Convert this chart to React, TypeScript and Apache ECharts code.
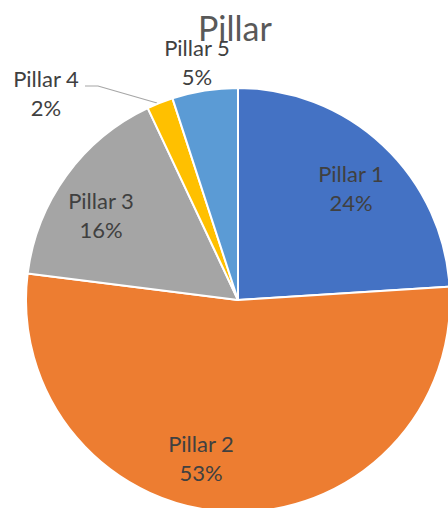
import React, { useEffect, useRef } from "react";
import * as echarts from "echarts";

const TITLE = "Pillar";
const categories = ["Pillar 1", "Pillar 2", "Pillar 3", "Pillar 4", "Pillar 5"];
const values = [24, 53, 16, 2, 5];
const colors = ["#4472C4", "#ED7D31", "#A5A5A5", "#FFC000", "#5B9BD5"];

// label block centres in px (layout only)
const labelPos: [number, number][] = [
  [351, 188],
  [201, 458],
  [101, 215],
  [46, 93],
  [197, 62],
];
// leader line for the small slice (layout only)
const leader: [number, number][] = [
  [157, 103],
  [98, 86],
  [85, 86],
];

const FONT = "Lato, 'Open Sans', sans-serif";

export default function App() {
  const ref = useRef<HTMLDivElement>(null);
  useEffect(() => {
    document.body.style.margin = "0";
    if (!ref.current) return;
    const chart = echarts.init(ref.current, undefined, { renderer: "svg" });
    const total = values.reduce((a, b) => a + b, 0);
    chart.setOption({
      animation: false,
      backgroundColor: "#ffffff",
      title: {
        text: TITLE,
        left: 198,
        top: 10,
        padding: 0,
        textStyle: {
          fontFamily: FONT,
          fontSize: 34,
          fontWeight: "normal",
          color: "#595959",
        },
      },
      series: [
        {
          type: "pie",
          center: [238, 300],
          radius: 212,
          startAngle: 90,
          clockwise: true,
          avoidLabelOverlap: false,
          itemStyle: { borderColor: "#ffffff", borderWidth: 2 },
          label: {
            show: true,
            position: "outside",
            width: 120,
            fontFamily: FONT,
            fontSize: 22,
            lineHeight: 29,
            color: "#404040",
            align: "center",
            formatter: (p: any) =>
              `${p.name}\n${Math.round((p.value / total) * 100)}%`,
          },
          labelLine: { show: false },
          labelLayout: (params: any) => {
            const i = params.dataIndex;
            const pos = labelPos[i];
            const out: any = {
              x: pos[0],
              y: pos[1],
              align: "center",
              verticalAlign: "middle",
            };
            if (i === 3) out.labelLinePoints = leader;
            return out;
          },
          data: categories.map((name, i) => ({
            name,
            value: values[i],
            itemStyle: { color: colors[i] },
            labelLine:
              i === 3
                ? { show: true, lineStyle: { color: "#A6A6A6", width: 1.2 } }
                : { show: false },
          })),
        },
      ],
    });
    return () => chart.dispose();
  }, []);
  return <div ref={ref} style={{ width: 448, height: 508 }} />;
}
